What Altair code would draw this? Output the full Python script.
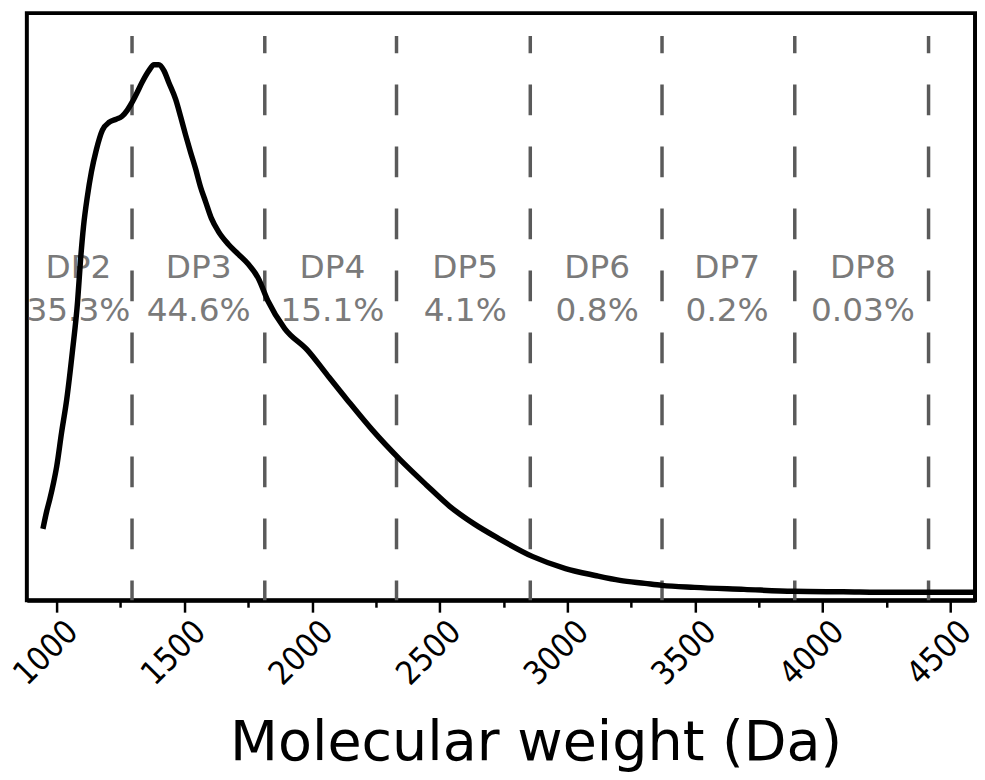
import altair as alt
import pandas as pd

# Molecular weight distribution curve (Da vs relative intensity)
mw = [946, 961, 973, 988, 1000, 1019, 1039, 1062, 1082, 1093, 1105, 1120, 1136, 1155,
      1179, 1206, 1233, 1256, 1276, 1295, 1315, 1334, 1361, 1381, 1400, 1420, 1439,
      1466, 1486, 1505, 1524, 1544, 1563, 1583, 1606, 1633, 1672, 1711, 1750, 1789,
      1827, 1893, 1983, 2060, 2138, 2235, 2344, 2449, 2538, 2635, 2733, 2865, 2993,
      3109, 3206, 3304, 3370, 3498, 3692, 3886, 4080, 4275, 4597]
intensity = [72, 90, 102, 119, 135, 169, 202, 252, 302, 342, 377, 407, 432, 454,
             474, 482, 485, 488, 494, 502, 512, 522, 534, 540, 540, 534, 522,
             505, 487, 469, 452, 435, 417, 402, 385, 372, 359, 349, 339, 325,
             302, 274, 252, 227, 202, 172, 142, 116, 95, 77, 62, 44, 32,
             25, 20, 17, 15, 13, 11, 9, 8.5, 8, 8]

# DP boundaries (dashed lines)
boundaries = [1295, 1815, 2331, 2855, 3371, 3891, 4415]

# DP annotations
dp_names = ["DP2", "DP3", "DP4", "DP5", "DP6", "DP7", "DP8"]
dp_pct = ["35.3%", "44.6%", "15.1%", "4.1%", "0.8%", "0.2%", "0.03%"]
dp_center = [1085, 1556, 2080, 2600, 3117, 3626, 4158]
name_row = [335] * 7
pct_row = [292] * 7

tick_values = list(range(1000, 4501, 250))

df_curve = pd.DataFrame({"mw": mw, "intensity": intensity})
df_b = pd.DataFrame({"b": boundaries})
df_t = pd.DataFrame({"c": dp_center, "name": dp_names, "pct": dp_pct,
                     "yn": name_row, "yp": pct_row})

xscale = alt.Scale(domain=[883, 4597], nice=False, zero=False)
yscale = alt.Scale(domain=[0, 592], nice=False, zero=True)

xaxis = alt.Axis(
    values=tick_values,
    labelExpr="datum.value % 500 === 0 ? datum.label : ''",
    format="d",
    tickSize={"condition": {"test": "datum.value % 500 === 0", "value": 12}, "value": 7},
    tickColor="black",
    tickWidth=2.5,
    domainColor="black",
    domainWidth=4,
    labelAngle=-45,
    labelAlign="center",
    labelBaseline="middle",
    labelOffset=-11,
    labelPadding=41,
    labelFont="DejaVu Sans Condensed, Liberation Sans Narrow, Liberation Sans",
    labelFontSize=33,
    labelColor="black",
    labelFlush=False,
    labelOverlap=False,
    grid=False,
    title="Molecular weight (Da)",
    titleFont="DejaVu Sans",
    titleFontSize=56,
    titleFontWeight="normal",
    titleColor="black",
    titleX=513,
    titleY=161,
    titleAlign="center",
    titleBaseline="alphabetic",
)

rules = alt.Chart(df_b).mark_rule(
    color="#5a5a5a", strokeWidth=3.5, strokeDash=[31, 31.5], strokeDashOffset=13.5
).encode(
    x=alt.X("b:Q", scale=xscale, axis=xaxis),
    y=alt.value(23),
    y2=alt.value(592),
)

names = alt.Chart(df_t).mark_text(
    font="DejaVu Sans", fontSize=33, color="#7a7a7a", baseline="middle", align="center"
).encode(
    x=alt.X("c:Q", scale=xscale),
    y=alt.Y("yn:Q", scale=yscale, axis=None),
    text="name:N",
)

pcts = alt.Chart(df_t).mark_text(
    font="DejaVu Sans", fontSize=33, color="#7a7a7a", baseline="middle", align="center"
).encode(
    x=alt.X("c:Q", scale=xscale),
    y=alt.Y("yp:Q", scale=yscale, axis=None),
    text="pct:N",
)

line = alt.Chart(df_curve).mark_line(
    color="black", strokeWidth=5.5, interpolate="monotone"
).encode(
    x=alt.X("mw:Q", scale=xscale),
    y=alt.Y("intensity:Q", scale=yscale, axis=None),
)

chart = alt.layer(rules, names, pcts, line).properties(
    width=956,
    height=592,
    autosize=alt.AutoSizeParams(type="none"),
    padding={"left": 19, "top": 2, "right": 2, "bottom": 170},
    background="white",
).configure_view(
    stroke="black", strokeWidth=4
)

chart.save("out.html", embed_options={"renderer": "svg", "actions": False})
